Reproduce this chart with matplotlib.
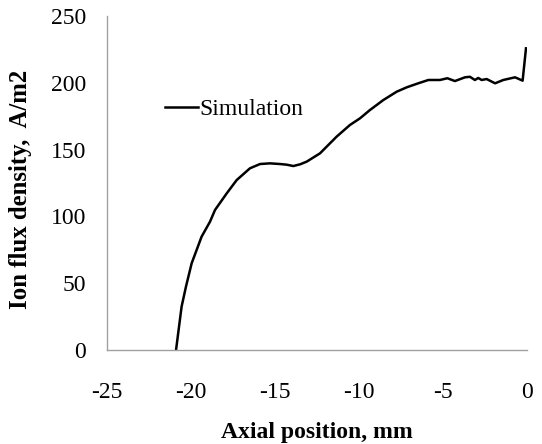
import matplotlib
matplotlib.use("Agg")
import matplotlib.pyplot as plt

plt.rcParams['font.family'] = ['Liberation Serif', 'DejaVu Serif']
plt.rcParams['axes.unicode_minus'] = False

# Axial profile of simulated ion flux density
axial_mm = [-20.89, -20.56, -20.30, -19.96, -19.37, -18.87, -18.57, -17.87,
            -17.28, -16.49, -15.89, -15.30, -14.70, -14.30, -13.91, -13.50,
            -13.11, -12.32, -11.33, -10.54, -9.94, -9.35, -8.55, -7.76,
            -7.16, -6.50, -5.87, -5.18, -4.74, -4.29, -3.69, -3.40, -3.10,
            -2.90, -2.70, -2.40, -1.90, -1.41, -0.71, -0.26, -0.06]
flux_density = [0.0, 32.4, 47.4, 64.9, 84.8, 96.0, 104.8, 117.3,
                127.2, 136.0, 139.2, 139.7, 139.2, 138.7, 137.7, 139.0,
                141.0, 147.2, 159.7, 168.4, 173.4, 179.6, 187.1, 193.3,
                196.6, 199.5, 202.1, 202.1, 203.4, 201.3, 204.1, 204.5, 202.1,
                203.6, 202.1, 202.8, 199.6, 202.1, 204.1, 201.6, 225.8]

x_ticks = [-25, -20, -15, -10, -5, 0]
y_ticks = [0, 50, 100, 150, 200, 250]

fig = plt.figure(figsize=(5.42, 4.44), dpi=100)
ax = fig.add_axes([0.1974, 0.2117, 0.7749, 0.7523])

ax.plot(axial_mm, flux_density, color='black', lw=1.8, label='Simulation')

ax.set_xlim(-25, 0)
ax.set_ylim(0, 250)
ax.set_xticks(x_ticks)
ax.set_yticks(y_ticks)
ax.tick_params(length=0, labelsize=17, colors='black')
ax.tick_params(axis='x', pad=23)
ax.tick_params(axis='y', pad=15)

for side in ('top', 'right'):
    ax.spines[side].set_visible(False)
for side in ('left', 'bottom'):
    ax.spines[side].set_color('#a0a0a0')
    ax.spines[side].set_linewidth(1.0)

ax.set_xlabel('Axial position, mm', fontsize=17, fontweight='bold', labelpad=14)
ax.set_ylabel('Ion flux density,  A/m2', fontsize=17.8, fontweight='bold')
ax.yaxis.set_label_coords(-0.178, 0.48)

ax.legend(loc='upper left', bbox_to_anchor=(0.116, 0.782), frameon=False,
          fontsize=17, handlelength=1.4, handletextpad=0.05, borderaxespad=0)

fig.savefig('out.png', dpi=100)
